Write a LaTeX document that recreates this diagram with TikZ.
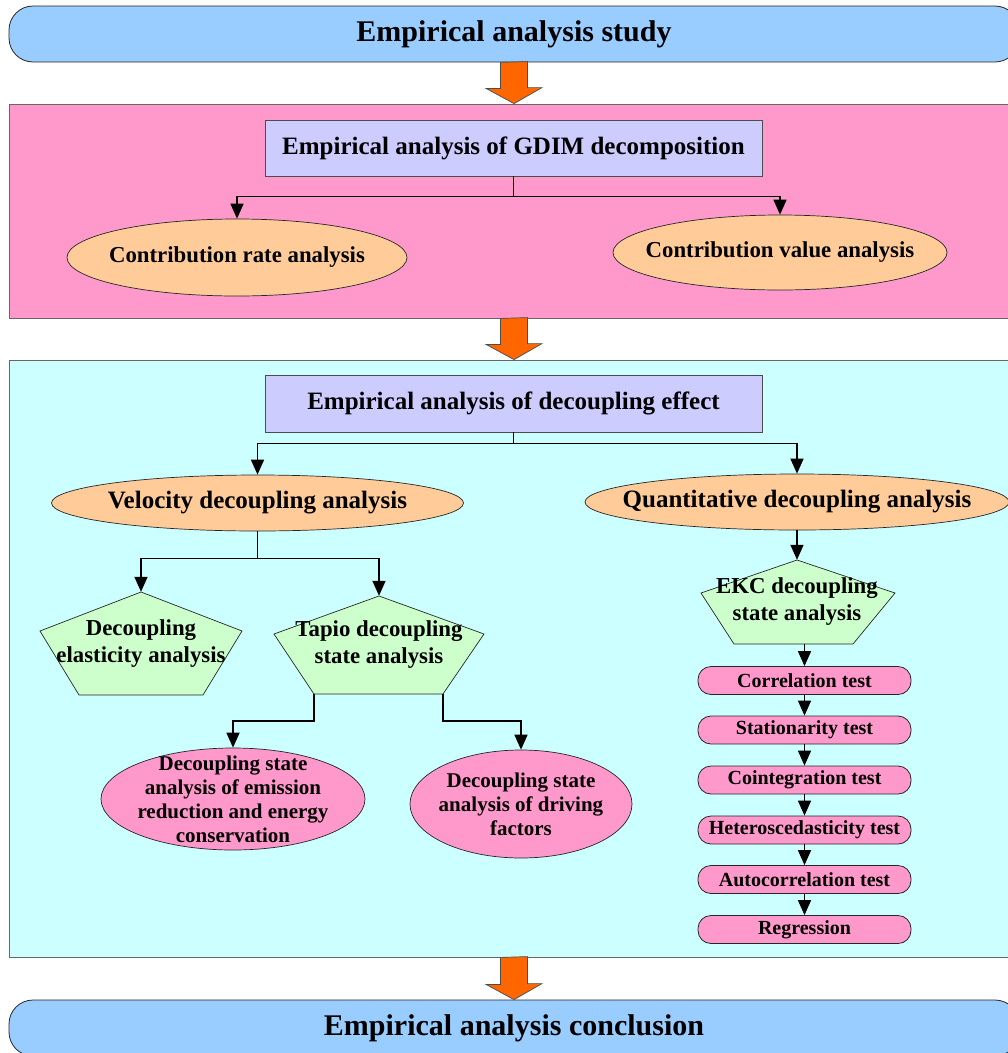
\documentclass[tikz,border=0pt]{standalone}
\usepackage{fontspec}
\setmainfont{Liberation Serif}
\usetikzlibrary{shapes.geometric,arrows.meta}

\definecolor{skyblue}{HTML}{99CCFF}
\definecolor{arroworange}{HTML}{FF6600}
\definecolor{rosepink}{HTML}{FF99CC}
\definecolor{lilac}{HTML}{CCCCFF}
\definecolor{peach}{HTML}{FFCC99}
\definecolor{palecyan}{HTML}{CCFFFF}
\definecolor{mint}{HTML}{CCFFCC}

\tikzset{
  banner/.style={draw=black!85, line width=0.8pt, fill=skyblue, rounded corners=24pt,
    minimum width=1010pt, minimum height=56pt, font=\fontsize{30}{34}\selectfont\bfseries},
  panel/.style={draw=black!60, line width=0.8pt, minimum width=1010pt, inner sep=0pt},
  titlebox/.style={draw=black!70, line width=0.8pt, fill=lilac, minimum width=497pt,
    minimum height=56pt, font=\fontsize{25}{30}\selectfont\bfseries},
  oval/.style={ellipse, draw=black!85, line width=0.7pt, inner sep=-40pt, align=center},
  pentfill/.style={draw=black!85, line width=0.7pt, fill=mint},
  penttext/.style={inner sep=0pt, align=center, font=\fontsize{22.8}{27}\selectfont\bfseries},
  testbox/.style={draw=black!85, line width=0.8pt, fill=rosepink, rounded corners=13pt,
    minimum width=213pt, minimum height=28pt, inner sep=0pt, font=\fontsize{20}{24}\selectfont\bfseries},
  conn/.style={line width=1.6pt, -{Triangle[length=15pt,width=13pt]}},
  bigarrow/.style={draw=black!70, line width=0.7pt, fill=arroworange},
}

\begin{document}
\begin{tikzpicture}[x=1pt,y=-1pt]
\useasboundingbox (0,0) rectangle (1008,1053);

% panels
\node[panel, fill=rosepink, minimum height=214pt] (gdimpanel) at (514,211) {};
\node[panel, fill=palecyan, minimum height=597pt] (decpanel) at (514,658.5) {};

% start and end
\node[banner] (study) at (514,34) {Empirical analysis study};
\node[banner] (conclusion) at (514,1028) {Empirical analysis conclusion};

\filldraw[bigarrow] (study.south) ++(-13.5,0) -- ++(0,26) -- ++(-14.5,0) -- (gdimpanel.north)
  -- ++(28,-16) -- ++(-14.5,0) -- ++(0,-26) -- cycle;
\filldraw[bigarrow] (gdimpanel.south) ++(-13.5,0) -- ++(0,26) -- ++(-14.5,0) -- (decpanel.north)
  -- ++(28,-16) -- ++(-14.5,0) -- ++(0,-26) -- cycle;
\filldraw[bigarrow] (decpanel.south) ++(-13.5,0) -- ++(0,27) -- ++(-14.5,0) -- (conclusion.north)
  -- ++(28,-16) -- ++(-14.5,0) -- ++(0,-27) -- cycle;

% GDIM part
\node[titlebox] (gdim) at (513.5,148) {Empirical analysis of GDIM decomposition};
\node[oval, fill=peach, minimum width=340pt, minimum height=77pt,
  font=\fontsize{22.8}{27}\selectfont\bfseries] (rate) at (237,257.5) {Contribution rate analysis};
\node[oval, fill=peach, minimum width=334pt, minimum height=75pt,
  font=\fontsize{22.8}{27}\selectfont\bfseries] (value) at (780,252.5) {Contribution value analysis};
\draw[conn] (gdim.south) -- ++(0,20) -| (rate.north);
\draw[conn] (gdim.south) -- ++(0,20) -| (value.north);

% decoupling part
\node[titlebox, minimum height=57pt] (decbox) at (513.5,403.5) {Empirical analysis of decoupling effect};
\node[oval, fill=peach, minimum width=412pt, minimum height=56pt,
  font=\fontsize{25}{30}\selectfont\bfseries] (velocity) at (257.5,503) {Velocity decoupling analysis};
\node[oval, fill=peach, minimum width=424pt, minimum height=56pt,
  font=\fontsize{25}{30}\selectfont\bfseries] (quant) at (797,502) {Quantitative decoupling analysis};
\draw[conn] (decbox.south) -- ++(0,11) -| (velocity.north);
\draw[conn] (decbox.south) -- ++(0,11) -| (quant.north);

\filldraw[pentfill] (141,592) -- (242,631) -- (203,695) -- (79,695) -- (40,631) -- cycle;
\node[penttext, minimum width=202pt, minimum height=103pt] (elast) at (141,643.5) {Decoupling\\elasticity analysis};
\filldraw[pentfill] (379,596) -- (484,634) -- (443,694) -- (314,694) -- (274,634) -- cycle;
\node[penttext, minimum width=210pt, minimum height=98pt] (tapio) at (379,645) {Tapio decoupling\\state analysis};
\coordinate (tapioleft) at (314,694);
\coordinate (tapioright) at (443,694);
\draw[conn] (velocity.south) -- ++(0,27) -| (elast.north);
\draw[conn] (velocity.south) -- ++(0,27) -| (tapio.north);

\node[oval, fill=rosepink, minimum width=264pt, minimum height=102pt,
  font=\fontsize{21}{24}\selectfont\bfseries] (emission) at (233,799)
  {Decoupling state\\analysis of emission\\reduction and energy\\conservation};
\node[oval, fill=rosepink, minimum width=222pt, minimum height=108pt,
  font=\fontsize{21}{24}\selectfont\bfseries] (drivers) at (521,804)
  {Decoupling state\\analysis of driving\\factors};
\draw[conn] (tapioleft) -- ++(0,27) -| (emission.north);
\draw[conn] (tapioright) -- ++(0,27) -| (drivers.north);

\filldraw[pentfill] (797,560) -- (895,593) -- (853,644) -- (734,644) -- (701,593) -- cycle;
\node[penttext, minimum width=194pt, minimum height=84pt] (ekc) at (797,602) {EKC decoupling\\state analysis};
\draw[conn] (quant.south) -- (ekc.north);

% test chain
\node[testbox] (corr) at (804.5,680.5) {Correlation test};
\node[testbox] (stat) at (804.5,730) {Stationarity test};
\node[testbox] (coint) at (804.5,780) {Cointegration test};
\node[testbox] (hetero) at (804.5,830) {Heteroscedasticity test};
\node[testbox] (autoc) at (804.5,879.5) {Autocorrelation test};
\node[testbox] (regr) at (804.5,929.5) {Regression};
\draw[conn] (ekc.south -| corr.north) -- (corr.north);
\draw[conn] (corr.south) -- (stat.north);
\draw[conn] (stat.south) -- (coint.north);
\draw[conn] (coint.south) -- (hetero.north);
\draw[conn] (hetero.south) -- (autoc.north);
\draw[conn] (autoc.south) -- (regr.north);
\end{tikzpicture}
\end{document}
